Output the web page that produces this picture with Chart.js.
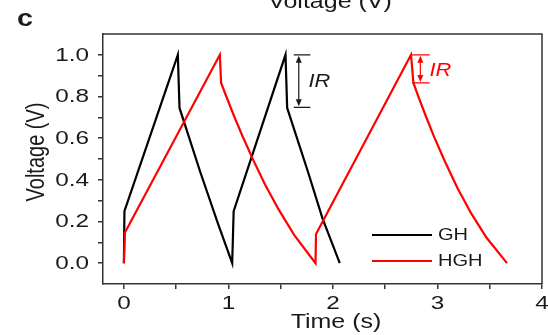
<!DOCTYPE html>
<html>
<head>
<meta charset="utf-8">
<script src="https://cdn.jsdelivr.net/npm/chart.js@4.4.1/dist/chart.umd.min.js"></script>
<style>
  body { margin: 0; background: #fff; }
  canvas { display: block; }
</style>
</head>
<body>
<canvas id="gcdChart" width="548" height="335"></canvas>
<script>
// dados (curvas de carga/descarga)
const ghTime = [0, 0.005, 0.516, 0.532, 0.733, 0.90, 1.036, 1.05, 1.546, 1.562, 1.76, 1.90, 2.065];
const ghVoltage = [0, 0.25, 1.0, 0.745, 0.434, 0.19, 0, 0.25, 1.0, 0.745, 0.44, 0.215, 0];

const hghTime = [0, 0.01, 0.918, 0.93, 0.98, 1.05, 1.13, 1.23, 1.35, 1.48, 1.63, 1.833,
                 1.838, 1.87, 2.747, 2.77, 2.82, 2.89, 2.97, 3.07, 3.19, 3.32, 3.47, 3.665];
const hghVoltage = [0, 0.147, 1.0, 0.865, 0.80, 0.711, 0.615, 0.503, 0.378, 0.258, 0.135, 0,
                    0.14, 0.17, 1.0, 0.865, 0.796, 0.704, 0.604, 0.489, 0.362, 0.241, 0.122, 0];

const xTickValues = [0, 0.5, 1, 1.5, 2, 2.5, 3, 3.5, 4];
const xTickLabels = ['0', '', '1', '', '2', '', '3', '', '4'];
const yTickValues = [0, 0.1, 0.2, 0.3, 0.4, 0.5, 0.6, 0.7, 0.8, 0.9, 1.0];
const yTickLabels = ['0.0', '', '0.2', '', '0.4', '', '0.6', '', '0.8', '', '1.0'];

// queda IR: [tempo, V topo, V base, inicio da barra, fim da barra]
const irGH = [1.673, 1.0, 0.748, 1.625, 1.784];
const irHGH = [2.836, 1.0, 0.865, 2.757, 2.925];

const seriesNames = ['GH', 'HGH'];
const seriesColors = ['#000000', '#ff0000'];

const FONT = '"Liberation Sans", Arial, sans-serif';
const SX = 1.28; // a figura original está esticada na horizontal

function toPoints(xs, ys) {
    return xs.map((x, i) => ({ x: x, y: ys[i] }));
}

function drawText(ctx, text, x, y, opts) {
    ctx.save();
    ctx.translate(x, y);
    ctx.scale(opts.sx || SX, 1);
    if (opts.rotate) ctx.rotate(opts.rotate);
    ctx.font = opts.font;
    ctx.fillStyle = opts.color || '#1a1a1a';
    ctx.textAlign = opts.align || 'center';
    ctx.textBaseline = opts.baseline || 'alphabetic';
    ctx.fillText(text, 0, 0);
    ctx.restore();
}

function drawArrowHead(ctx, x, y, dir) {
    // dir = -1 aponta para cima, 1 para baixo
    ctx.beginPath();
    ctx.moveTo(x, y);
    ctx.lineTo(x - 3, y - dir * 7);
    ctx.lineTo(x + 3, y - dir * 7);
    ctx.closePath();
    ctx.fill();
}

function drawIR(ctx, xs, ys, ir, color, textT, textV) {
    const xm = xs.getPixelForValue(ir[0]);
    const yt = ys.getPixelForValue(ir[1]);
    const yb = ys.getPixelForValue(ir[2]);
    const x1 = xs.getPixelForValue(ir[3]);
    const x2 = xs.getPixelForValue(ir[4]);
    ctx.save();
    ctx.strokeStyle = color;
    ctx.fillStyle = color;
    ctx.lineWidth = 1.2;
    ctx.beginPath();
    ctx.moveTo(x1, yt); ctx.lineTo(x2, yt);
    ctx.moveTo(x1, yb); ctx.lineTo(x2, yb);
    ctx.moveTo(xm, yt + 5); ctx.lineTo(xm, yb - 5);
    ctx.stroke();
    drawArrowHead(ctx, xm, yt + 1, -1);
    drawArrowHead(ctx, xm, yb - 1, 1);
    ctx.restore();
    drawText(ctx, 'IR', xs.getPixelForValue(textT), ys.getPixelForValue(textV), {
        font: 'italic 19px ' + FONT, color: color, align: 'left', baseline: 'middle', sx: 1.15
    });
}

const decorPlugin = {
    id: 'decor',
    afterDraw(chart) {
        const ctx = chart.ctx;
        const area = chart.chartArea;
        const xs = chart.scales.x;
        const ys = chart.scales.y;

        // moldura superior e direita
        ctx.save();
        ctx.strokeStyle = '#333';
        ctx.lineWidth = 1.5;
        ctx.beginPath();
        ctx.moveTo(area.left, area.top);
        ctx.lineTo(area.right, area.top);
        ctx.lineTo(area.right, area.bottom);
        ctx.stroke();
        ctx.restore();

        // rótulos dos ticks
        const tickFont = '19px ' + FONT;
        xTickValues.forEach((v, i) => {
            if (!xTickLabels[i]) return;
            drawText(ctx, xTickLabels[i], xs.getPixelForValue(v), 309, { font: tickFont });
        });
        yTickValues.forEach((v, i) => {
            if (!yTickLabels[i]) return;
            drawText(ctx, yTickLabels[i], 89, ys.getPixelForValue(v) + 0.5, { font: tickFont, align: 'right', baseline: 'middle' });
        });

        // títulos dos eixos
        drawText(ctx, 'Time (s)', 336, 328, { font: '20px ' + FONT, sx: 1.25 });
        drawText(ctx, 'Voltage (V)', 43.5, 152, { font: '20px ' + FONT, sx: 1.25, rotate: -Math.PI / 2 });
        drawText(ctx, 'Voltage (V)', 330, 8, { font: '20px ' + FONT, sx: 1.25 });
        drawText(ctx, 'c', 17, 26, { font: 'bold 23px ' + FONT, align: 'left', sx: 1.25 });

        // anotações IR
        drawIR(ctx, xs, ys, irGH, '#1a1a1a', 1.766, 0.869);
        drawIR(ctx, xs, ys, irHGH, seriesColors[1], 2.923, 0.925);

        // legenda
        const legendY = [235, 261];
        seriesNames.forEach((name, i) => {
            ctx.save();
            ctx.strokeStyle = seriesColors[i];
            ctx.lineWidth = 2;
            ctx.beginPath();
            ctx.moveTo(372, legendY[i]);
            ctx.lineTo(432, legendY[i]);
            ctx.stroke();
            ctx.restore();
            drawText(ctx, name, 438, legendY[i] + 0.5, { font: '17px ' + FONT, align: 'left', baseline: 'middle', sx: 1.18 });
        });
    }
};

const ctx = document.getElementById('gcdChart').getContext('2d');

new Chart(ctx, {
    type: 'scatter',
    data: {
        datasets: [
            {
                label: seriesNames[1],
                data: toPoints(hghTime, hghVoltage),
                showLine: true,
                borderColor: seriesColors[1],
                borderWidth: 2.2,
                pointRadius: 0,
                tension: 0,
                order: 0
            },
            {
                label: seriesNames[0],
                data: toPoints(ghTime, ghVoltage),
                showLine: true,
                borderColor: seriesColors[0],
                borderWidth: 2.2,
                pointRadius: 0,
                tension: 0,
                order: 1
            }
        ]
    },
    options: {
        responsive: false,
        animation: false,
        devicePixelRatio: 1,
        layout: { padding: { top: 34, right: 6, left: 0, bottom: 0 } },
        plugins: {
            legend: { display: false },
            tooltip: { enabled: false }
        },
        scales: {
            x: {
                type: 'linear',
                min: -0.2,
                max: 4,
                afterBuildTicks: (scale) => { scale.ticks = xTickValues.map(v => ({ value: v })); },
                afterFit: (scale) => { scale.height = 51; },
                ticks: { display: false },
                grid: { drawOnChartArea: false, drawTicks: true, tickLength: 5, color: '#333', lineWidth: 1.5 },
                border: { display: true, color: '#333', width: 1.5 }
            },
            y: {
                min: -0.1,
                max: 1.1,
                afterBuildTicks: (scale) => { scale.ticks = yTickValues.map(v => ({ value: v })); },
                afterFit: (scale) => { scale.width = 103; },
                ticks: { display: false },
                grid: { drawOnChartArea: false, drawTicks: true, tickLength: 5, color: '#333', lineWidth: 1.5 },
                border: { display: true, color: '#333', width: 1.5 }
            }
        }
    },
    plugins: [decorPlugin]
});
</script>
</body>
</html>
